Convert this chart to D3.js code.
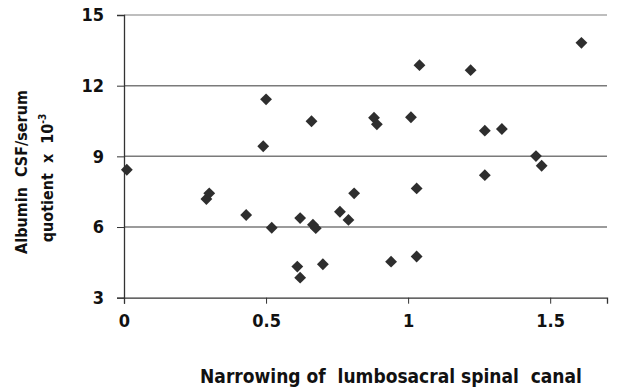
<!DOCTYPE html>
<html>
<head>
<meta charset="utf-8">
<script src="https://cdn.jsdelivr.net/npm/d3@7"></script>
<style>
  body { margin: 0; background: #fff; }
  text { font-family: "Liberation Sans Narrow", "DejaVu Sans Condensed", sans-serif; font-weight: bold; fill: #111; white-space: pre; }
</style>
</head>
<body>
<div class="canvas"></div>
<script>
// narrowing of lumbosacral spinal canal vs albumin quotient
const narrowing = [0.01, 0.29, 0.30, 0.43, 0.52, 0.50, 0.49, 0.62, 0.66, 0.665, 0.675, 0.61, 0.62, 0.70,
  0.76, 0.79, 0.81, 0.88, 0.89, 0.94, 1.01, 1.03, 1.03, 1.04, 1.22, 1.27, 1.27, 1.33, 1.45, 1.47, 1.61];
const quotient = [8.43, 7.19, 7.43, 6.51, 5.97, 11.42, 9.43, 6.38, 10.49, 6.1, 5.95, 4.32, 3.85, 4.42,
  6.65, 6.30, 7.43, 10.64, 10.36, 4.53, 10.66, 7.64, 4.75, 12.87, 12.66, 10.09, 8.20, 10.16, 9.01, 8.60, 13.82];
const xTicks = [0, 0.5, 1, 1.5];
const yTicks = [3, 6, 9, 12, 15];

const points = narrowing.map((d, i) => ({x: d, y: quotient[i]}));

const width = 633, height = 390;
const margin = {top: 15, right: 26, bottom: 93, left: 124};

const svg = d3.select(".canvas")
  .append('svg')
  .attr('width', width)
  .attr('height', height);

const x = d3.scaleLinear()
  .domain([0, 1.7])
  .range([margin.left, width - margin.right]);

const y = d3.scaleLinear()
  .domain([3, 15])
  .range([height - margin.bottom + 0.7, margin.top]);

// gridlines
svg.selectAll('line.grid')
  .data(yTicks.filter(t => t > 3))
  .enter()
  .append('line')
  .attr('class', 'grid')
  .attr('x1', margin.left)
  .attr('x2', width - margin.right)
  .attr('y1', d => y(d))
  .attr('y2', d => y(d))
  .attr('stroke', d => d === 15 ? '#a8a8a8' : '#7a7a7a')
  .attr('stroke-width', 1.5);

// y axis
const yAxis = svg.append('g')
  .attr('transform', `translate(${margin.left},0)`)
  .call(d3.axisLeft(y).tickValues(yTicks).tickSize(7).tickPadding(13));
yAxis.select('.domain').attr('stroke', '#333').attr('stroke-width', 1.3);
yAxis.selectAll('.tick line').attr('stroke', '#333');
yAxis.selectAll('.tick text').style('font-size', '18px');

// x axis
const xAxis = svg.append('g')
  .attr('transform', `translate(0,${y(3)})`)
  .call(d3.axisBottom(x).tickValues(xTicks).tickSize(6).tickPadding(11)
    .tickFormat(d => d));
xAxis.select('.domain').attr('stroke', '#333').attr('stroke-width', 1.3);
xAxis.selectAll('.tick line').attr('stroke', '#333');
xAxis.selectAll('.tick text').style('font-size', '18px');

// points
svg.selectAll('path.pt')
  .data(points)
  .enter()
  .append('path')
  .attr('class', 'pt')
  .attr('d', d3.symbol().type(d3.symbolSquare).size(70))
  .attr('transform', d => `translate(${x(d.x)},${y(d.y)}) rotate(45)`)
  .attr('fill', '#2e2e2e');

// axis titles
svg.append('text')
  .attr('x', 391)
  .attr('y', 383)
  .attr('text-anchor', 'middle')
  .style('font-size', '19px')
  .text('Narrowing of  lumbosacral spinal  canal');

const yt = svg.append('text')
  .attr('transform', 'translate(27,172) rotate(-90)')
  .attr('text-anchor', 'middle')
  .style('font-size', '16px');
yt.append('tspan').attr('x', 0).attr('dy', 0).text('Albumin  CSF/serum');
yt.append('tspan').attr('x', -6).attr('dy', 26).text('quotient  x  10');
yt.append('tspan').attr('dy', -7).style('font-size', '10px').text('-3');
</script>
</body>
</html>
